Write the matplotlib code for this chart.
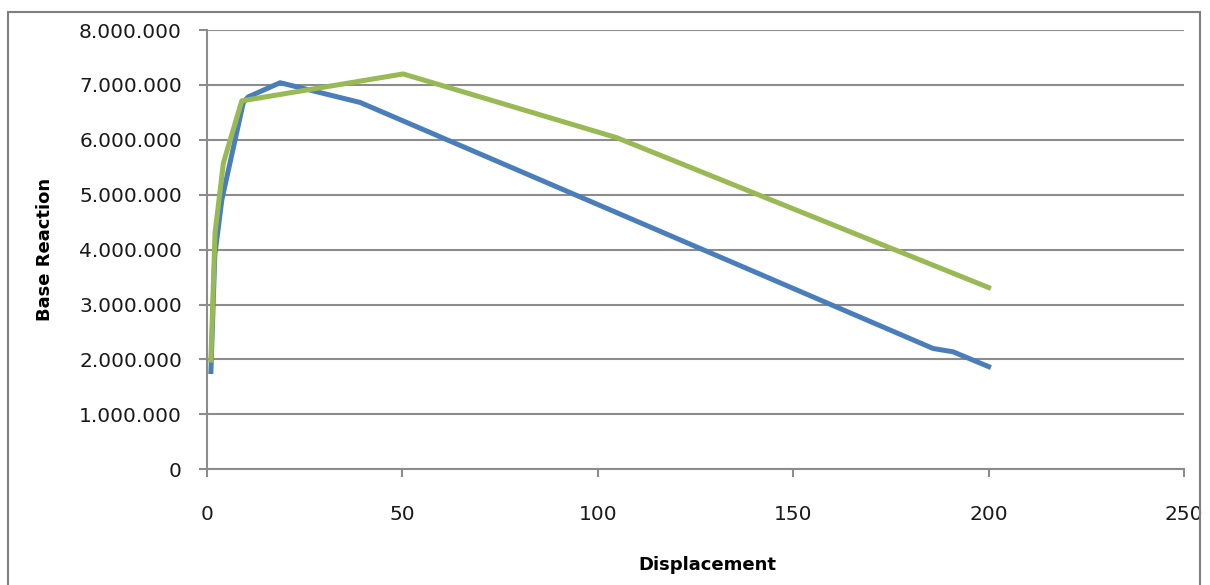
import matplotlib
matplotlib.use("Agg")
import matplotlib.pyplot as plt
from matplotlib.patches import Rectangle
from matplotlib.ticker import FuncFormatter

# displacement / base reaction
blue_x = [1.0, 2.0, 3.8, 9.3, 10.5, 18.7, 39.2, 185.8, 190.9, 200.0]
blue_y = [1780000, 3900000, 4910000, 6680000, 6780000, 7040000, 6680000, 2200000, 2140000, 1870000]

green_x = [1.0, 2.05, 4.2, 8.9, 50.2, 104.8, 200.0]
green_y = [1990000, 4300000, 5580000, 6710000, 7200000, 6040000, 3310000]

x_ticks = [0, 50, 100, 150, 200, 250]
y_ticks = [0, 1000000, 2000000, 3000000, 4000000, 5000000, 6000000, 7000000, 8000000]


def dotted_thousands(v, pos):
    return f"{int(round(v)):,}".replace(",", ".")


fig = plt.figure(figsize=(12.10, 5.85), dpi=100)
ax = fig.add_axes([207 / 1210, 1 - 469.3 / 585, (1184 - 207) / 1210, (469.3 - 30) / 585])

grid_color = "#8c8c8c"
ax.plot(blue_x, blue_y, color="#4a7ebb", linewidth=3.6, solid_joinstyle="round", zorder=3)
ax.plot(green_x, green_y, color="#98b954", linewidth=3.6, solid_joinstyle="round", zorder=4)

ax.set_xlim(0, 250)
ax.set_ylim(0, 8000000)
ax.set_xticks(x_ticks)
ax.set_yticks(y_ticks)
ax.yaxis.set_major_formatter(FuncFormatter(dotted_thousands))

ax.grid(True, axis="y", color=grid_color, linewidth=1.5)
ax.set_axisbelow(True)
for side in ["top", "right"]:
    ax.spines[side].set_visible(False)
for side in ["left", "bottom"]:
    ax.spines[side].set_color(grid_color)
    ax.spines[side].set_linewidth(1.5)
ax.tick_params(axis="both", direction="out", length=6, width=1.5, color=grid_color,
               labelsize=14.5, labelcolor="#1a1a1a")
ax.tick_params(axis="y", pad=12)
ax.tick_params(axis="x", pad=20)

ax.set_xlabel("Displacement", fontsize=13, fontweight="bold")
ax.set_ylabel("Base Reaction", fontsize=13, fontweight="bold")
ax.xaxis.set_label_coords(0.512, -0.197)
ax.yaxis.set_label_coords(-0.157, 0.5)

# outer chart-area border
fig.patches.append(Rectangle((8 / 1210, -0.02), (1200 - 8) / 1210, 1 - 12 / 585 + 0.02,
                             transform=fig.transFigure, fill=False,
                             edgecolor="#7f7f7f", linewidth=1.5))

fig.savefig("out.png", dpi=100)
